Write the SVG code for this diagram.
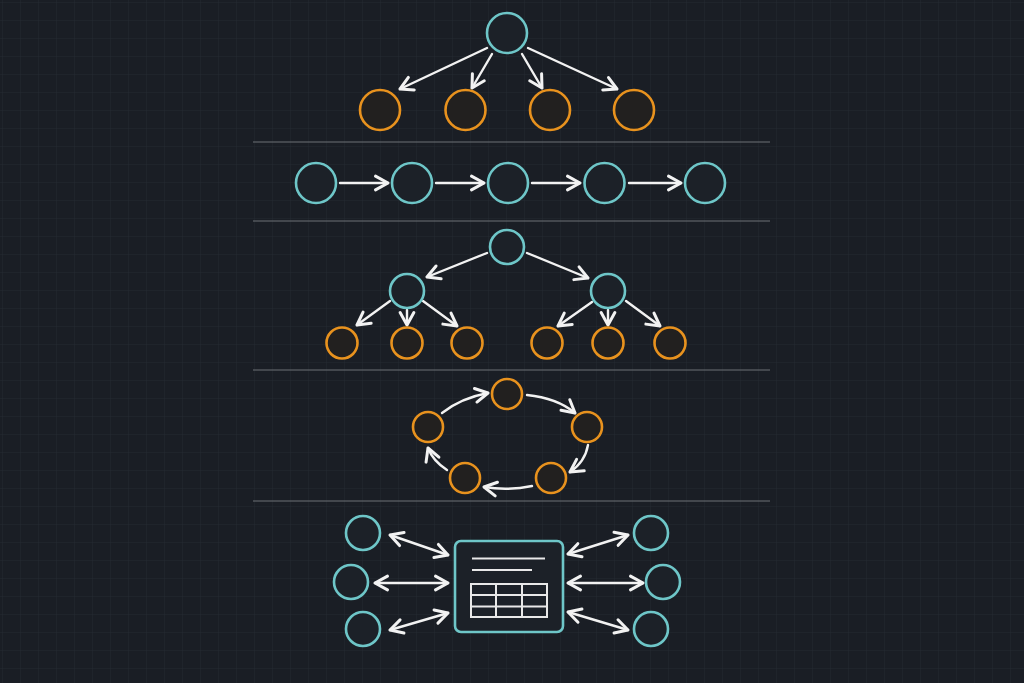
<svg xmlns="http://www.w3.org/2000/svg" width="1024" height="683" viewBox="0 0 1024 683">
<defs>
<pattern id="grid" width="18" height="18" patternUnits="userSpaceOnUse" x="2" y="2">
<path d="M18,0 L0,0 L0,18" fill="none" stroke="#242932" stroke-width="1"/>
</pattern>
<marker id="ah" markerUnits="userSpaceOnUse" markerWidth="20" markerHeight="20" viewBox="-12 -8 14 16" refX="0" refY="0" orient="auto-start-reverse">
<path d="M-10,-5.5 L0,0 L-10,5.5" fill="none" stroke="#f2f2f2" stroke-width="2.4" stroke-linecap="round" stroke-linejoin="round"/>
</marker>
<style>
.cy{fill:#1c2128;stroke:#6ec6c8;stroke-width:2.6}
.or{fill:#22201f;stroke:#e8921e;stroke-width:2.6}
.sep{stroke:#6c7076;stroke-width:1.2}
.ar{fill:none;stroke:#f2f2f2;stroke-width:2.4;stroke-linecap:round;marker-end:url(#ah)}
.ar2{fill:none;stroke:#f2f2f2;stroke-width:2.4;stroke-linecap:round;marker-end:url(#ah);marker-start:url(#ah)}
.ln{stroke:#e8e8e8;stroke-width:2;fill:none}
</style>
</defs>
<rect width="1024" height="683" fill="#1a1e25"/>
<rect width="1024" height="683" fill="url(#grid)"/>

<g id="separators">
<line class="sep" x1="253" y1="142" x2="770" y2="142"/>
<line class="sep" x1="253" y1="221" x2="770" y2="221"/>
<line class="sep" x1="253" y1="370" x2="770" y2="370"/>
<line class="sep" x1="253" y1="501" x2="770" y2="501"/>
</g>

<g id="connectors">
<line class="ar" x1="487" y1="48" x2="400" y2="89"/>
<line class="ar" x1="492" y1="54" x2="472" y2="88"/>
<line class="ar" x1="522" y1="54" x2="542" y2="88"/>
<line class="ar" x1="528" y1="48" x2="617" y2="89"/>
<line class="ar" x1="340" y1="183" x2="388" y2="183"/>
<line class="ar" x1="436" y1="183" x2="484" y2="183"/>
<line class="ar" x1="532" y1="183" x2="580" y2="183"/>
<line class="ar" x1="629" y1="183" x2="681" y2="183"/>
<line class="ar" x1="487" y1="253" x2="427" y2="277"/>
<line class="ar" x1="527" y1="253" x2="588" y2="278"/>
<line class="ar" x1="390" y1="301" x2="357" y2="325"/>
<line class="ar" x1="407" y1="310" x2="407" y2="325"/>
<line class="ar" x1="423" y1="301" x2="457" y2="326"/>
<line class="ar" x1="592" y1="302" x2="558" y2="326"/>
<line class="ar" x1="608" y1="310" x2="608" y2="325"/>
<line class="ar" x1="626" y1="301" x2="660" y2="326"/>
<path class="ar" d="M527,395 Q557,398 575,413"/>
<path class="ar" d="M588,445 Q585,462 570,472"/>
<path class="ar" d="M532,486 Q508,491 484,487"/>
<path class="ar" d="M447,470 Q433,461 428,448"/>
<path class="ar" d="M442,413 Q461,398 488,393"/>
<line class="ar2" x1="390" y1="535" x2="448" y2="555"/>
<line class="ar2" x1="375" y1="583" x2="448" y2="583"/>
<line class="ar2" x1="390" y1="630" x2="448" y2="613"/>
<line class="ar2" x1="568" y1="554" x2="628" y2="535"/>
<line class="ar2" x1="568" y1="583" x2="643" y2="583"/>
<line class="ar2" x1="568" y1="612" x2="628" y2="630"/>
</g>

<g id="s1-root"><circle class="cy" cx="507" cy="33" r="20"/></g>
<g id="s1-c1"><circle class="or" cx="380" cy="110" r="20"/></g>
<g id="s1-c2"><circle class="or" cx="465.5" cy="110" r="20"/></g>
<g id="s1-c3"><circle class="or" cx="550" cy="110" r="20"/></g>
<g id="s1-c4"><circle class="or" cx="634" cy="110" r="20"/></g>

<g id="s2-n1"><circle class="cy" cx="316" cy="183" r="20"/></g>
<g id="s2-n2"><circle class="cy" cx="412" cy="183" r="20"/></g>
<g id="s2-n3"><circle class="cy" cx="508" cy="183" r="20"/></g>
<g id="s2-n4"><circle class="cy" cx="604.5" cy="183" r="20"/></g>
<g id="s2-n5"><circle class="cy" cx="705" cy="183" r="20"/></g>

<g id="s3-root"><circle class="cy" cx="507" cy="247" r="17"/></g>
<g id="s3-l"><circle class="cy" cx="407" cy="291" r="17"/></g>
<g id="s3-r"><circle class="cy" cx="608" cy="291" r="17"/></g>
<g id="s3-l1"><circle class="or" cx="342" cy="343" r="15.5"/></g>
<g id="s3-l2"><circle class="or" cx="407" cy="343" r="15.5"/></g>
<g id="s3-l3"><circle class="or" cx="467" cy="343" r="15.5"/></g>
<g id="s3-r1"><circle class="or" cx="547" cy="343" r="15.5"/></g>
<g id="s3-r2"><circle class="or" cx="608" cy="343" r="15.5"/></g>
<g id="s3-r3"><circle class="or" cx="670" cy="343" r="15.5"/></g>

<g id="s4-top"><circle class="or" cx="507" cy="394" r="15"/></g>
<g id="s4-right"><circle class="or" cx="587" cy="427" r="15"/></g>
<g id="s4-br"><circle class="or" cx="551" cy="478" r="15"/></g>
<g id="s4-bl"><circle class="or" cx="465" cy="478" r="15"/></g>
<g id="s4-left"><circle class="or" cx="428" cy="427" r="15"/></g>

<g id="s5-db">
<rect x="455" y="541" width="108" height="91" rx="6" fill="#1c2128" stroke="#6ec6c8" stroke-width="2.6"/>
<line class="ln" x1="472" y1="558.5" x2="545" y2="558.5"/>
<line class="ln" x1="472" y1="570" x2="532" y2="570"/>
<rect class="ln" x="471" y="584" width="76" height="33"/>
<line class="ln" x1="471" y1="595" x2="547" y2="595"/>
<line class="ln" x1="471" y1="606.5" x2="547" y2="606.5"/>
<line class="ln" x1="496" y1="584" x2="496" y2="617"/>
<line class="ln" x1="522" y1="584" x2="522" y2="617"/>
</g>
<g id="s5-l1"><circle class="cy" cx="363" cy="533" r="17"/></g>
<g id="s5-l2"><circle class="cy" cx="351" cy="582" r="17"/></g>
<g id="s5-l3"><circle class="cy" cx="363" cy="629" r="17"/></g>
<g id="s5-r1"><circle class="cy" cx="651" cy="533" r="17"/></g>
<g id="s5-r2"><circle class="cy" cx="663" cy="582" r="17"/></g>
<g id="s5-r3"><circle class="cy" cx="651" cy="629" r="17"/></g>
</svg>
